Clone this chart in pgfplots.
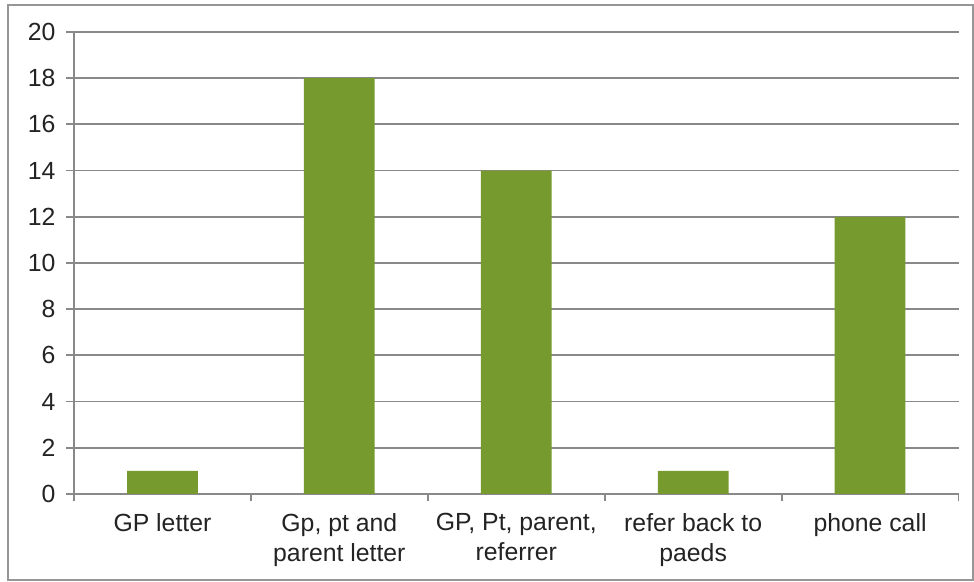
\documentclass[border=0pt]{standalone}
\usepackage{pgfplots}
\pgfplotsset{compat=1.18}
\usepackage{fontspec}
\setmainfont{Liberation Sans}
\definecolor{bargreen}{RGB}{119,154,46}
\definecolor{gridgray}{RGB}{137,137,137}
\definecolor{framegray}{RGB}{150,150,150}
\definecolor{labeltext}{RGB}{35,35,35}
\begin{document}
\begin{tikzpicture}
\begin{axis}[
  scale only axis,
  width=442.25pt, height=231pt,
  xmin=-0.5, xmax=4.5,
  ymin=0, ymax=20,
  ytick={0,2,...,20},
  xtick={-0.5,0.5,1.5,2.5,3.5,4.5},
  xticklabels={},
  extra x ticks={0,1,2,3,4},
  extra x tick labels={GP letter,{Gp, pt and\\parent letter},{GP, Pt, parent,\\referrer},{refer back to\\paeds},phone call},
  extra x tick style={major tick length=0pt, xticklabel style={align=center, yshift=-6pt}},
  axis x line*=bottom,
  axis y line*=left,
  axis line style={gridgray, line width=0.9pt, -},
  ymajorgrids,
  major grid style={gridgray, line width=0.9pt},
  tick align=outside,
  tick style={gridgray, line width=0.9pt},
  major tick length=3.75pt,
  tick label style={font=\fontsize{12.4}{15}\selectfont, text=labeltext},
  yticklabel style={xshift=-2pt},
  /pgf/number format/assume math mode=true,
  ybar,
  bar width=0.4,
  clip=false,
]
\addplot[fill=bargreen, draw=none] coordinates {(0,1) (1,18) (2,14) (3,1) (4,12)};
\end{axis}
% chart frame and page extent
\draw[framegray, line width=0.8pt]
  ([xshift=-33pt,yshift=-43pt]current axis.south west)
  rectangle ([xshift=7.25pt,yshift=13.5pt]current axis.north east);
\useasboundingbox
  ([xshift=-37pt,yshift=-44pt]current axis.south west)
  rectangle ([xshift=7.75pt,yshift=16pt]current axis.north east);
\end{tikzpicture}
\end{document}
